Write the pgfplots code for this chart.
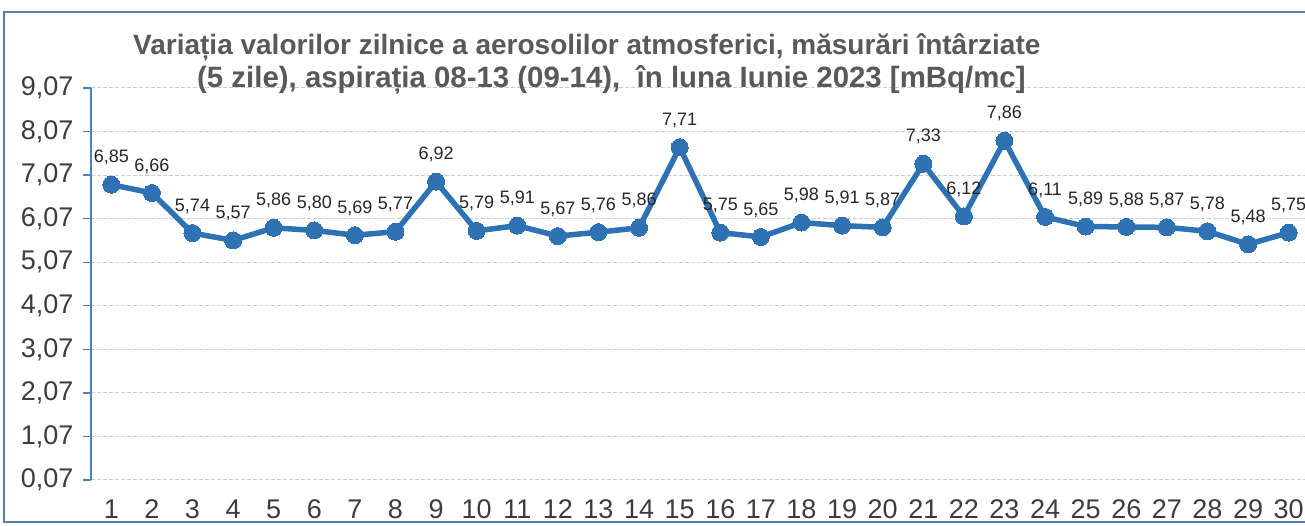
\documentclass[border=0pt]{standalone}
\usepackage{pgfplots}
\pgfplotsset{compat=1.18}
\usepackage{fontspec}
\setmainfont{Liberation Sans}
\definecolor{lineblue}{RGB}{46,114,180}
\definecolor{axisblue}{RGB}{79,129,189}
\definecolor{framecol}{RGB}{90,125,170}
\definecolor{titlegray}{RGB}{89,89,89}
\definecolor{ticktext}{RGB}{60,60,60}
\definecolor{labeltext}{RGB}{38,38,38}
\begin{document}
\begin{tikzpicture}[x=1pt,y=1pt]
\useasboundingbox (0,0) rectangle (1305,526);
\draw[framecol, line width=1.5pt] (4,4) rectangle (1345,514);
\begin{axis}[
  at={(91pt,46pt)}, anchor=south west,
  scale only axis, width=1218pt, height=392pt,
  xmin=0.5, xmax=30.5,
  ymin=0.07, ymax=9.07,
  ytick={0.07,1.07,2.07,3.07,4.07,5.07,6.07,7.07,8.07,9.07},
  xtick={1,...,30},
  /pgf/number format/assume math mode=true,
  ticklabel style={font=\fontsize{27}{29}\selectfont, text=ticktext},
  xticklabel style={yshift=-8pt},
  yticklabel style={xshift=-6pt, /pgf/number format/.cd, fixed, fixed zerofill, precision=2, use comma},
  axis x line*=bottom, axis y line*=left,
  x axis line style={draw=none},
  y axis line style={draw=axisblue, line width=1.3pt},
  xtick style={draw=none},
  ytick style={draw=axisblue, line width=1.3pt},
  tick align=outside, major tick length=8pt,
  ymajorgrids, grid style={draw=gray!40, line width=1pt, dash pattern=on 4pt off 2pt},
  clip=false,
  nodes near coords,
  every node near coord/.append style={font=\fontsize{18}{20}\selectfont, text=labeltext, anchor=center, yshift=27pt,
    /pgf/number format/.cd, fixed, fixed zerofill, precision=2, use comma},
]
\addplot[lineblue, line width=5.5pt, mark=*, mark size=8.5pt, mark options={fill=lineblue, draw=lineblue, line width=0pt}] coordinates {
(1,6.85) (2,6.66) (3,5.74) (4,5.57) (5,5.86) (6,5.80) (7,5.69) (8,5.77) (9,6.92) (10,5.79)
(11,5.91) (12,5.67) (13,5.76) (14,5.86) (15,7.71) (16,5.75) (17,5.65) (18,5.98) (19,5.91) (20,5.87)
(21,7.33) (22,6.12) (23,7.86) (24,6.11) (25,5.89) (26,5.88) (27,5.87) (28,5.78) (29,5.48) (30,5.75)
};
\end{axis}
\node[anchor=base west, font=\fontsize{28}{30}\selectfont\bfseries, text=titlegray, inner sep=0pt] at (133,471) {Variația valorilor zilnice a aerosolilor atmosferici, măsurări întârziate};
\node[anchor=base west, font=\fontsize{29.4}{31}\selectfont\bfseries, text=titlegray, inner sep=0pt] at (197,438) {(5 zile), aspirația 08-13 (09-14),\ \ în luna Iunie 2023 [mBq/mc]};
\end{tikzpicture}
\end{document}
